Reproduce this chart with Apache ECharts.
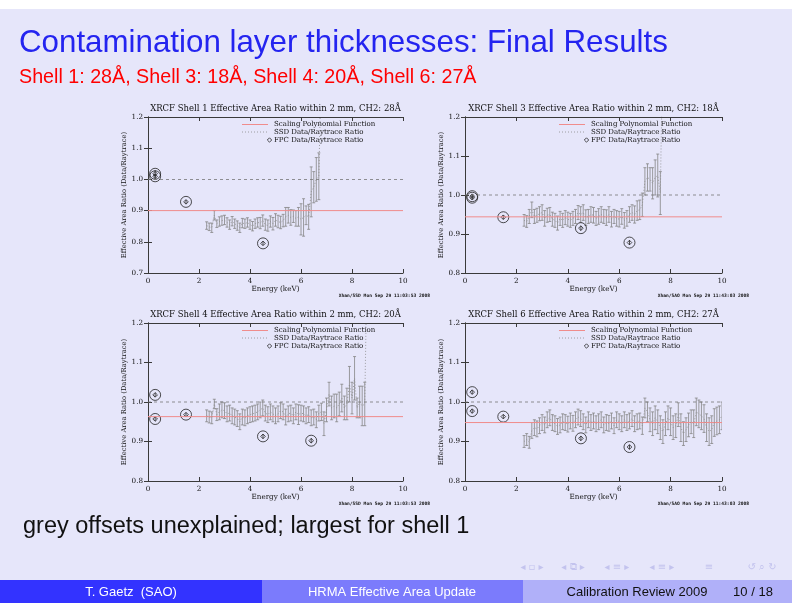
<!DOCTYPE html>
<html lang="en">
<head>
    <meta charset="UTF-8">
    <title>Contamination layer thicknesses</title>
    <style>
        html, body { margin: 0; padding: 0; background: #fff; }
    </style>
</head>
<body>
    <script src="https://cdn.jsdelivr.net/npm/echarts@6/dist/echarts.min.js"></script>
    <div id="main" style="width: 792px;height:612px;"></div>

    <script>
        // ---- Shell 1 (CH2: 28A) ----
        var s1E = [2.3,2.4,2.5,2.6,2.7,2.8,2.9,3.0,3.1,3.2,
                   3.3,3.4,3.5,3.6,3.7,3.8,3.9,4.0,4.1,4.2,
                   4.3,4.4,4.5,4.6,4.7,4.8,4.9,5.0,5.1,5.2,
                   5.3,5.4,5.5,5.6,5.7,5.8,5.9,6.0,6.1,6.2,
                   6.3,6.4,6.5,6.6,6.7];
        var s1R = [0.852,0.848,0.845,0.885,0.858,0.865,0.868,0.870,0.862,0.855,
                   0.866,0.858,0.852,0.845,0.860,0.858,0.862,0.855,0.850,0.858,
                   0.862,0.860,0.868,0.855,0.852,0.865,0.858,0.870,0.865,0.862,
                   0.868,0.880,0.885,0.878,0.882,0.875,0.880,0.872,0.878,0.885,
                   0.880,0.960,0.975,1.000,1.010];
        var s1Err = [0.012,0.012,0.015,0.015,0.012,0.015,0.015,0.015,0.015,0.015,
                     0.015,0.015,0.015,0.015,0.015,0.015,0.015,0.015,0.015,0.015,
                     0.015,0.018,0.018,0.018,0.018,0.018,0.020,0.020,0.020,0.020,
                     0.020,0.030,0.025,0.025,0.020,0.025,0.030,0.050,0.060,0.030,
                     0.040,0.080,0.050,0.070,0.075];
        var s1Tail = [6.8, 1.40];
        var s1FpcE = [0.28, 0.28, 1.49, 4.51];
        var s1FpcR = [1.018, 1.010, 0.928, 0.795];
        var s1FpcErr = [0.012, 0.008, 0.006, 0.006];

        // ---- Shell 3 (CH2: 18A) ----
        var s3E = [2.3,2.4,2.5,2.6,2.7,2.8,2.9,3.0,3.1,3.2,
                   3.3,3.4,3.5,3.6,3.7,3.8,3.9,4.0,4.1,4.2,
                   4.3,4.4,4.5,4.6,4.7,4.8,4.9,5.0,5.1,5.2,
                   5.3,5.4,5.5,5.6,5.7,5.8,5.9,6.0,6.1,6.2,
                   6.3,6.4,6.5,6.6,6.7,6.8,6.9,7.0,7.1,7.2,
                   7.3,7.4,7.5,7.6];
        var s3R = [0.935,0.932,0.945,0.962,0.945,0.948,0.952,0.955,0.940,0.948,
                   0.950,0.938,0.935,0.928,0.940,0.935,0.942,0.938,0.935,0.940,
                   0.945,0.955,0.950,0.955,0.942,0.945,0.950,0.948,0.940,0.945,
                   0.950,0.945,0.942,0.950,0.938,0.945,0.940,0.938,0.945,0.935,
                   0.940,0.950,0.955,0.950,0.960,0.962,0.975,1.035,1.045,1.040,
                   1.030,1.045,1.050,1.005];
        var s3Err = [0.015,0.015,0.018,0.020,0.018,0.018,0.018,0.020,0.020,0.018,
                     0.018,0.018,0.018,0.018,0.018,0.018,0.018,0.018,0.018,0.018,
                     0.018,0.018,0.020,0.020,0.020,0.018,0.020,0.020,0.018,0.020,
                     0.020,0.018,0.020,0.020,0.020,0.018,0.020,0.020,0.020,0.020,
                     0.020,0.020,0.020,0.022,0.025,0.025,0.030,0.035,0.035,0.030,
                     0.040,0.045,0.055,0.055];
        var s3Tail = [7.7, 1.40];
        var s3FpcE = [0.28, 0.28, 1.49, 4.51, 6.40];
        var s3FpcR = [0.997, 0.993, 0.943, 0.915, 0.878];
        var s3FpcErr = [0.005, 0.005, 0.005, 0.006, 0.006];

        // ---- Shell 4 (CH2: 20A) ----
        var s4E = [2.3,2.4,2.5,2.6,2.7,2.8,2.9,3.0,3.1,3.2,
                   3.3,3.4,3.5,3.6,3.7,3.8,3.9,4.0,4.1,4.2,
                   4.3,4.4,4.5,4.6,4.7,4.8,4.9,5.0,5.1,5.2,
                   5.3,5.4,5.5,5.6,5.7,5.8,5.9,6.0,6.1,6.2,
                   6.3,6.4,6.5,6.6,6.7,6.8,6.9,7.0,7.1,7.2,
                   7.3,7.4,7.5,7.6,7.7,7.8,7.9,8.0,8.1,8.2,
                   8.3,8.4,8.5];
        var s4R = [0.965,0.962,0.960,0.995,0.968,0.975,0.980,0.978,0.970,0.972,
                   0.965,0.962,0.958,0.950,0.962,0.960,0.965,0.968,0.970,0.972,
                   0.975,0.980,0.985,0.972,0.968,0.975,0.970,0.965,0.970,0.978,
                   0.975,0.962,0.970,0.972,0.965,0.975,0.968,0.972,0.970,0.965,
                   0.968,0.960,0.962,0.955,0.972,0.975,0.945,0.980,1.020,0.985,
                   0.990,0.985,0.995,1.010,0.985,0.995,1.045,1.010,1.060,0.985,
                   1.000,0.990,0.995];
        var s4Err = [0.015,0.015,0.015,0.012,0.015,0.020,0.020,0.020,0.020,0.020,
                     0.020,0.020,0.020,0.020,0.020,0.020,0.020,0.020,0.020,0.020,
                     0.020,0.020,0.020,0.020,0.020,0.020,0.020,0.020,0.020,0.020,
                     0.020,0.020,0.020,0.020,0.020,0.020,0.025,0.020,0.020,0.020,
                     0.020,0.020,0.020,0.020,0.020,0.022,0.030,0.030,0.030,0.030,
                     0.030,0.035,0.030,0.035,0.030,0.040,0.045,0.040,0.055,0.025,
                     0.040,0.050,0.055];
        var s4Tail = [8.6, 1.40];
        var s4FpcE = [0.28, 0.28, 1.49, 4.51, 6.40];
        var s4FpcR = [1.018, 0.957, 0.968, 0.913, 0.902];
        var s4FpcErr = [0.005, 0.005, 0.005, 0.006, 0.006];

        // ---- Shell 6 (CH2: 27A) ----
        var s6E = [2.3,2.4,2.5,2.6,2.7,2.8,2.9,3.0,3.1,3.2,
                   3.3,3.4,3.5,3.6,3.7,3.8,3.9,4.0,4.1,4.2,
                   4.3,4.4,4.5,4.6,4.7,4.8,4.9,5.0,5.1,5.2,
                   5.3,5.4,5.5,5.6,5.7,5.8,5.9,6.0,6.1,6.2,
                   6.3,6.4,6.5,6.6,6.7,6.8,6.9,7.0,7.1,7.2,
                   7.3,7.4,7.5,7.6,7.7,7.8,7.9,8.0,8.1,8.2,
                   8.3,8.4,8.5,8.6,8.7,8.8,8.9,9.0,9.1,9.2,
                   9.3,9.4,9.5,9.6,9.7,9.8,9.9,10.0];
        var s6R = [0.900,0.905,0.898,0.928,0.935,0.932,0.940,0.948,0.942,0.955,
                   0.960,0.948,0.945,0.938,0.942,0.950,0.948,0.944,0.952,0.946,
                   0.955,0.962,0.958,0.950,0.942,0.955,0.948,0.952,0.945,0.950,
                   0.955,0.942,0.948,0.946,0.952,0.940,0.955,0.950,0.945,0.955,
                   0.948,0.952,0.958,0.945,0.950,0.952,0.940,0.985,0.975,0.955,
                   0.945,0.960,0.950,0.935,0.925,0.945,0.960,0.950,0.935,0.940,
                   0.968,0.935,0.920,0.930,0.942,0.950,0.945,0.975,0.970,0.965,
                   0.958,0.935,0.925,0.930,0.948,0.952,0.955,0.965];
        var s6Err = [0.015,0.015,0.015,0.020,0.020,0.020,0.020,0.020,0.020,0.020,
                     0.020,0.020,0.020,0.020,0.020,0.020,0.020,0.020,0.020,0.020,
                     0.020,0.020,0.020,0.020,0.020,0.020,0.020,0.020,0.020,0.020,
                     0.020,0.020,0.020,0.020,0.020,0.020,0.020,0.020,0.020,0.020,
                     0.020,0.020,0.020,0.020,0.020,0.020,0.022,0.025,0.025,0.030,
                     0.030,0.030,0.030,0.030,0.030,0.030,0.030,0.035,0.030,0.030,
                     0.030,0.035,0.030,0.030,0.030,0.030,0.035,0.035,0.035,0.035,
                     0.035,0.035,0.035,0.035,0.035,0.035,0.035,0.035];
        var s6Tail = null;
        var s6FpcE = [0.28, 0.28, 1.49, 4.51, 6.40];
        var s6FpcR = [1.025, 0.977, 0.963, 0.908, 0.886];
        var s6FpcErr = [0.005, 0.005, 0.005, 0.006, 0.006];

        var panelTitles = ['XRCF Shell 1 Effective Area Ratio within 2 mm, CH2: 28Å',
                           'XRCF Shell 3 Effective Area Ratio within 2 mm, CH2: 18Å',
                           'XRCF Shell 4 Effective Area Ratio within 2 mm, CH2: 20Å',
                           'XRCF Shell 6 Effective Area Ratio within 2 mm, CH2: 27Å'];
        var scaleLevels = [0.900, 0.944, 0.963, 0.948];
        var yMins = [0.7, 0.8, 0.8, 0.8];
        var xTicks = [0, 2, 4, 6, 8, 10];
        var stamps = ['Xhan/SSD Mon Sep 29 11:03:53 2008', 'Xhan/SAO Mon Sep 29 11:43:03 2008',
                      'Xhan/SSD Mon Sep 29 11:03:53 2008', 'Xhan/SAO Mon Sep 29 11:43:03 2008'];

        var shells = [
            {e: s1E, r: s1R, err: s1Err, tail: s1Tail, fe: s1FpcE, fr: s1FpcR, ferr: s1FpcErr},
            {e: s3E, r: s3R, err: s3Err, tail: s3Tail, fe: s3FpcE, fr: s3FpcR, ferr: s3FpcErr},
            {e: s4E, r: s4R, err: s4Err, tail: s4Tail, fe: s4FpcE, fr: s4FpcR, ferr: s4FpcErr},
            {e: s6E, r: s6R, err: s6Err, tail: s6Tail, fe: s6FpcE, fr: s6FpcR, ferr: s6FpcErr}
        ];

        // plot boxes (pixels)
        var boxes = [
            {left: 148, top: 117, width: 255, height: 156},
            {left: 465, top: 117, width: 257, height: 156},
            {left: 148, top: 323, width: 255, height: 158},
            {left: 465, top: 323, width: 257, height: 158}
        ];

        var SERIF = '"DejaVu Serif", serif';
        var SANS = '"Liberation Sans", Arial, sans-serif';
        var AXIS = '#3a3a3a';
        var GREY = '#858585';
        var PINK = '#f08c8c';

        function errorBar(params, api) {
            var hi = api.coord([api.value(0), api.value(2)]);
            var lo = api.coord([api.value(0), api.value(1)]);
            var c = 1.5;
            var st = {stroke: GREY, lineWidth: 0.8};
            return {type: 'group', children: [
                {type: 'line', shape: {x1: hi[0], y1: hi[1], x2: lo[0], y2: lo[1]}, style: st},
                {type: 'line', shape: {x1: hi[0] - c, y1: hi[1], x2: hi[0] + c, y2: hi[1]}, style: st},
                {type: 'line', shape: {x1: lo[0] - c, y1: lo[1], x2: lo[0] + c, y2: lo[1]}, style: st}
            ]};
        }

        function fpcMark(params, api) {
            var x = api.value(0), y = api.value(1), e = api.value(2);
            var p = api.coord([x, y]);
            var hi = api.coord([x, y + e]);
            var lo = api.coord([x, y - e]);
            var d = 2.3;
            var st = {fill: 'none', stroke: '#222', lineWidth: 0.8};
            return {type: 'group', children: [
                {type: 'circle', shape: {cx: p[0], cy: p[1], r: 5.5}, style: st},
                {type: 'polygon', shape: {points: [[p[0], p[1] - d], [p[0] + d, p[1]], [p[0], p[1] + d], [p[0] - d, p[1]]]}, style: st},
                {type: 'line', shape: {x1: hi[0], y1: hi[1], x2: lo[0], y2: lo[1]}, style: st}
            ]};
        }

        var grids = [], xAxes = [], yAxes = [], series = [], titles = [], graphics = [];

        // slide decoration
        graphics.push({type: 'rect', shape: {x: 0, y: 0, width: 792, height: 9}, style: {fill: '#fff'}});
        graphics.push({type: 'rect', shape: {x: 0, y: 603, width: 792, height: 9}, style: {fill: '#fff'}});
        graphics.push({type: 'rect', shape: {x: 0, y: 580, width: 262, height: 23}, style: {fill: '#3333ff'}});
        graphics.push({type: 'rect', shape: {x: 262, y: 580, width: 261, height: 23}, style: {fill: '#7b7bfc'}});
        graphics.push({type: 'rect', shape: {x: 523, y: 580, width: 269, height: 23}, style: {fill: '#b0b0f9'}});
        function txt(x, y, s, font, color, align) {
            return {type: 'text', x: x, y: y, style: {text: s, font: font, fill: color,
                textAlign: align || 'left', align: align || 'left', textVerticalAlign: 'middle', verticalAlign: 'middle'}};
        }
        graphics.push(txt(19, 43, 'Contamination layer thicknesses: Final Results', 'normal 31.3px ' + SANS, '#2424f0'));
        graphics.push(txt(19, 78, 'Shell 1: 28Å, Shell 3: 18Å, Shell 4: 20Å, Shell 6: 27Å', 'normal 19.7px ' + SANS, '#ff0000'));
        graphics.push(txt(23, 527, 'grey offsets unexplained; largest for shell 1', 'normal 23.5px ' + SANS, '#111'));
        graphics.push(txt(131, 592, 'T. Gaetz  (SAO)', 'normal 13px ' + SANS, '#fff', 'center'));
        graphics.push(txt(392, 592, 'HRMA Effective Area Update', 'normal 13px ' + SANS, '#fff', 'center'));
        graphics.push(txt(637, 592, 'Calibration Review 2009', 'normal 13px ' + SANS, '#111', 'center'));
        graphics.push(txt(753, 592, '10 / 18', 'normal 13px ' + SANS, '#111', 'center'));
        // beamer navigation symbols
        var navFont = 'normal 10px "DejaVu Sans"', navCol = '#c3c3ee';
        graphics.push(txt(532, 567, '◂ ▫ ▸', navFont, navCol, 'center'));
        graphics.push(txt(573, 567, '◂ ⧉ ▸', navFont, navCol, 'center'));
        graphics.push(txt(617, 567, '◂ ≡ ▸', navFont, navCol, 'center'));
        graphics.push(txt(662, 567, '◂ ≡ ▸', navFont, navCol, 'center'));
        graphics.push(txt(709, 567, '≡', navFont, navCol, 'center'));
        graphics.push(txt(762, 567, '↺ ⌕ ↻', navFont, navCol, 'center'));

        for (var i = 0; i < 4; i++) {
            var b = boxes[i], s = shells[i];
            grids.push({left: b.left, top: b.top, width: b.width, height: b.height, containLabel: false});

            titles.push({
                text: panelTitles[i], left: b.left + b.width / 2, top: b.top - 13, textAlign: 'center', padding: 0,
                textStyle: {fontFamily: SERIF, fontSize: 8.5, fontWeight: 'normal', color: '#111'}
            });

            xAxes.push({
                gridIndex: i, type: 'value', min: 0, max: 10, interval: 2, position: 'bottom',
                name: 'Energy (keV)', nameLocation: 'middle', nameGap: 13,
                nameTextStyle: {fontFamily: SERIF, fontSize: 7.2, color: '#111'},
                axisLine: {show: true, lineStyle: {color: AXIS, width: 1}},
                axisTick: {show: true, inside: true, length: 4, lineStyle: {color: AXIS}},
                axisLabel: {fontFamily: SERIF, fontSize: 7.2, color: '#111', margin: 5,
                    formatter: function (v) { return xTicks.indexOf(v) >= 0 ? String(v) : ''; }},
                splitLine: {show: false}
            });
            yAxes.push({
                gridIndex: i, type: 'value', min: yMins[i], max: 1.2, interval: 0.1, position: 'left',
                name: 'Effective Area Ratio (Data/Raytrace)', nameLocation: 'middle', nameGap: 20,
                nameTextStyle: {fontFamily: SERIF, fontSize: 6.8, color: '#111'},
                axisLine: {show: true, lineStyle: {color: AXIS, width: 1}},
                axisTick: {show: true, inside: true, length: 4, lineStyle: {color: AXIS}},
                axisLabel: {fontFamily: SERIF, fontSize: 7.2, color: '#111', margin: 5,
                    formatter: function (v) { return v.toFixed(1); }},
                splitLine: {show: false}
            });

            // SSD dotted line, error bars, FPC points
            var ssd = [], bars = [], fpc = [];
            for (var k = 0; k < s.e.length; k++) {
                ssd.push([s.e[k], s.r[k]]);
                bars.push([s.e[k], s.r[k] - s.err[k], s.r[k] + s.err[k]]);
            }
            if (s.tail) ssd.push(s.tail);
            for (var k = 0; k < s.fe.length; k++) fpc.push([s.fe[k], s.fr[k], s.ferr[k]]);

            series.push({
                type: 'line', xAxisIndex: i, yAxisIndex: i, symbol: 'none', silent: true,
                data: [[0, 1.0], [10, 1.0]], lineStyle: {color: '#777', width: 0.8, type: [3, 3]}
            });
            series.push({
                type: 'line', xAxisIndex: i, yAxisIndex: i, symbol: 'none', silent: true,
                data: [[0, scaleLevels[i]], [10, scaleLevels[i]]], lineStyle: {color: PINK, width: 1}
            });
            series.push({
                type: 'line', xAxisIndex: i, yAxisIndex: i, symbol: 'none', silent: true, clip: true,
                data: ssd, lineStyle: {color: '#8a8a8a', width: 0.8, type: [1, 2]}
            });
            series.push({
                type: 'custom', xAxisIndex: i, yAxisIndex: i, silent: true, clip: true,
                renderItem: errorBar, data: bars
            });
            series.push({
                type: 'custom', xAxisIndex: i, yAxisIndex: i, silent: true,
                renderItem: fpcMark, data: fpc
            });
        }

        // top / right box sides with inward ticks
        for (var i = 0; i < 4; i++) {
            xAxes.push({
                gridIndex: i, type: 'value', min: 0, max: 10, interval: 2, position: 'top',
                axisLine: {show: true, lineStyle: {color: AXIS, width: 1}},
                axisTick: {show: true, inside: true, length: 4, lineStyle: {color: AXIS}},
                axisLabel: {show: false}, splitLine: {show: false}
            });
            yAxes.push({
                gridIndex: i, type: 'value', min: yMins[i], max: 1.2, interval: 0.1, position: 'right',
                axisLine: {show: true, lineStyle: {color: AXIS, width: 1}},
                axisTick: {show: true, inside: true, length: 4, lineStyle: {color: AXIS}},
                axisLabel: {show: false}, splitLine: {show: false}
            });

            // in-plot legend and time stamp
            var b = boxes[i];
            var lf = 'normal 7px ' + SERIF;
            graphics.push({type: 'line', shape: {x1: b.left + 94, y1: b.top + 7.5, x2: b.left + 120, y2: b.top + 7.5},
                style: {stroke: PINK, lineWidth: 1}});
            graphics.push(txt(b.left + 126, b.top + 7.5, 'Scaling Polynomial Function', lf, '#111'));
            graphics.push({type: 'line', shape: {x1: b.left + 94, y1: b.top + 15, x2: b.left + 120, y2: b.top + 15},
                style: {stroke: '#8a8a8a', lineWidth: 0.8, lineDash: [1, 2]}});
            graphics.push(txt(b.left + 126, b.top + 15, 'SSD Data/Raytrace Ratio', lf, '#111'));
            var dx = b.left + 121.5, dy = b.top + 23;
            graphics.push({type: 'polygon', shape: {points: [[dx, dy - 2.2], [dx + 2.2, dy], [dx, dy + 2.2], [dx - 2.2, dy]]},
                style: {fill: 'none', stroke: '#222', lineWidth: 0.8}});
            graphics.push(txt(b.left + 126, b.top + 23, 'FPC Data/Raytrace Ratio', lf, '#111'));
            graphics.push(txt(b.left + b.width + 27, b.top + b.height + 23, stamps[i], 'bold 4.6px "DejaVu Sans Mono", monospace', '#111', 'right'));
        }

        var myChart = echarts.init(document.getElementById('main'));
        var option = {
            backgroundColor: '#e6e6fa',
            animation: false,
            title: titles,
            grid: grids,
            xAxis: xAxes,
            yAxis: yAxes,
            series: series,
            graphic: {elements: graphics}
        };
        myChart.setOption(option);
    </script>
</body>
</html>
